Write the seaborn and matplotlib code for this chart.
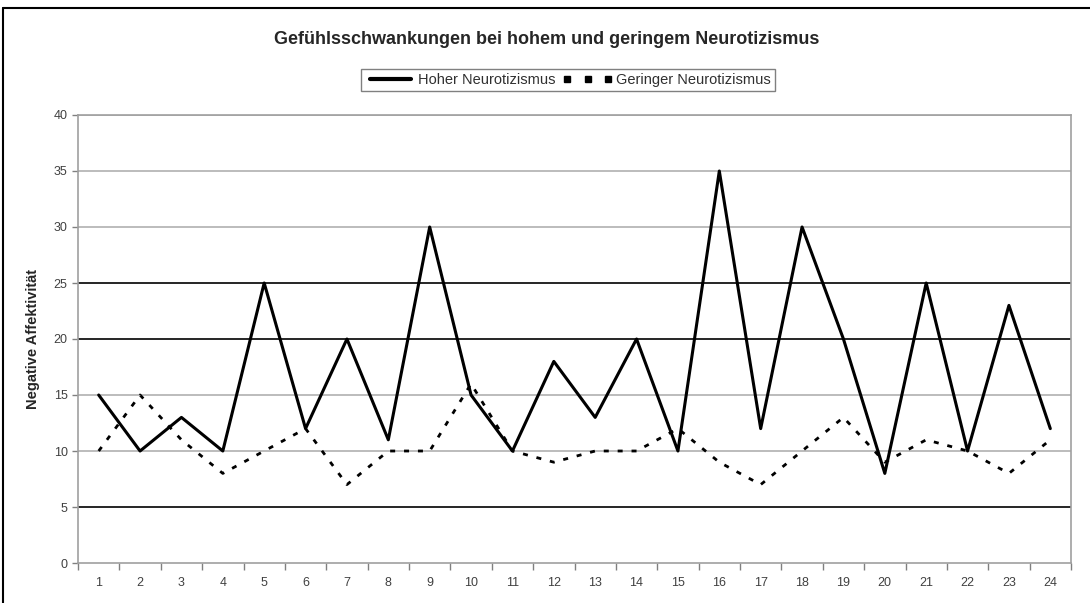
import numpy as np
import pandas as pd
import seaborn as sns
import matplotlib.pyplot as plt
from matplotlib.lines import Line2D

# Messzeitpunkte und Werte
zeitpunkte = list(range(1, 25))
hoher = [15, 10, 13, 10, 25, 12, 20, 11, 30, 15, 10, 18, 13, 20, 10, 35, 12, 30, 20, 8, 25, 10, 23, 12]
geringer = [10, 15, 11, 8, 10, 12, 7, 10, 10, 16, 10, 9, 10, 10, 12, 9, 7, 10, 13, 9, 11, 10, 8, 11]

df = pd.DataFrame({'Zeitpunkt': zeitpunkte, 'Hoher': hoher, 'Geringer': geringer})

sns.set_style('white')
plt.rcParams['font.family'] = ['Liberation Sans', 'DejaVu Sans']

fig = plt.figure(figsize=(10.9, 6.03), dpi=100)
ax = fig.add_axes([78 / 1090, 1 - 563 / 603, (1071 - 78) / 1090, (563 - 115) / 603])

# Gitterlinien (einige dunkel, einige grau wie im Original)
for v in [10, 15, 30, 35, 40]:
    ax.axhline(v, color='#b0b0b0', lw=1.2, zorder=0)
for v in [5, 20, 25]:
    ax.axhline(v, color='black', lw=1.2, zorder=0)

sns.lineplot(data=df, x='Zeitpunkt', y='Hoher', ax=ax, color='black', lw=2.2)
sns.lineplot(data=df, x='Zeitpunkt', y='Geringer', ax=ax, color='black', lw=2.0,
             linestyle=(0, (1.8, 3.2)))

ax.set_xlim(0.5, 24.5)
ax.set_ylim(0, 40)
ax.set_yticks(range(0, 41, 5))
ax.set_xticks(np.arange(0.5, 25, 1))
ax.set_xticklabels([])
ax.set_xticks(zeitpunkte, minor=True)
ax.set_xticklabels([str(z) for z in zeitpunkte], minor=True)
ax.tick_params(axis='x', which='major', direction='out', length=5, width=1, color='#808080', bottom=True)
ax.tick_params(axis='x', which='minor', length=0, labelsize=9, labelcolor='#404040', pad=10)
ax.tick_params(axis='y', direction='out', length=4, width=1, color='#808080', left=True,
               labelsize=9, labelcolor='#404040')

for s in ['left', 'bottom', 'right', 'top']:
    ax.spines[s].set_color('#a0a0a0')
    ax.spines[s].set_linewidth(1.2)

ax.set_xlabel('')
ax.set_ylabel('Negative Affektivität', fontsize=10.5, fontweight='bold', labelpad=10)

fig.text(547 / 1090, 1 - 40 / 603, 'Gefühlsschwankungen bei hohem und geringem Neurotizismus',
         ha='center', va='center', fontsize=13, fontweight='bold')

# Legende: durchgezogene Linie und drei quadratische Punkte
handles = [Line2D([], [], color='black', lw=3),
           Line2D([], [], color='black', ls='none', marker='s', ms=4)]
leg = fig.legend(handles, ['Hoher Neurotizismus', 'Geringer Neurotizismus'],
                 loc='center', bbox_to_anchor=(568 / 1090, 1 - 80 / 603), ncol=2,
                 frameon=True, fancybox=False, fontsize=10.5, handlelength=3.4,
                 numpoints=3, handletextpad=0.2, columnspacing=0.5, borderpad=0.3)
leg.get_frame().set_edgecolor('#606060')
leg.get_frame().set_linewidth(1.0)
for t in leg.get_texts():
    t.set_color('#303030')

# Rahmen oben und links
fig.add_artist(Line2D([3 / 1090, 3 / 1090], [0, 1 - 8 / 603], color='black', lw=1.5,
                      transform=fig.transFigure))
fig.add_artist(Line2D([3 / 1090, 1], [1 - 8 / 603, 1 - 8 / 603], color='black', lw=1.5,
                      transform=fig.transFigure))

fig.savefig('out.png', dpi=100)
